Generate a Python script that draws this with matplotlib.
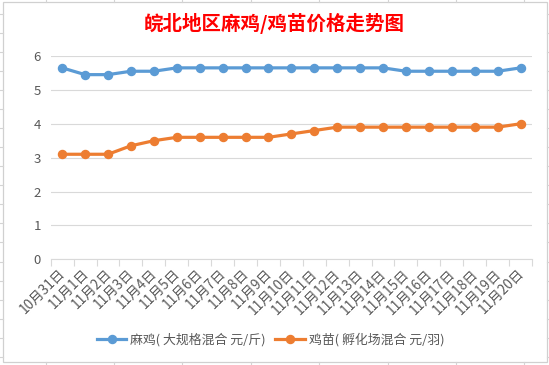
import matplotlib
matplotlib.use("Agg")
import matplotlib.pyplot as plt
from matplotlib.lines import Line2D
from matplotlib.patches import Rectangle
import numpy as np

plt.rcParams['font.family'] = ['Noto Sans CJK SC', 'DejaVu Sans']

title = "皖北地区麻鸡/鸡苗价格走势图"
dates = ["10月31日", "11月1日", "11月2日", "11月3日", "11月4日", "11月5日", "11月6日",
         "11月7日", "11月8日", "11月9日", "11月10日", "11月11日", "11月12日", "11月13日",
         "11月14日", "11月15日", "11月16日", "11月17日", "11月18日", "11月19日", "11月20日"]
maji = [5.65, 5.45, 5.45, 5.55, 5.55, 5.65, 5.65, 5.65, 5.65, 5.65, 5.65,
        5.65, 5.65, 5.65, 5.65, 5.55, 5.55, 5.55, 5.55, 5.55, 5.65]
jimiao = [3.1, 3.1, 3.1, 3.35, 3.5, 3.6, 3.6, 3.6, 3.6, 3.6, 3.7,
          3.8, 3.9, 3.9, 3.9, 3.9, 3.9, 3.9, 3.9, 3.9, 4.0]
series_names = ["麻鸡( 大规格混合 元/斤)", "鸡苗( 孵化场混合 元/羽)"]
yticks = [0, 1, 2, 3, 4, 5, 6]

W, H = 549, 365
fig = plt.figure(figsize=(W / 100, H / 100), dpi=100)
fig.patch.set_facecolor("white")

grid_c = "#D9D9D9"
text_c = "#595959"

# spreadsheet cell gridlines outside the chart
for k in range(19):
    yy = 14 + 19.04 * k
    fig.add_artist(Line2D([0, 3 / W], [1 - yy / H] * 2, color="#D4D4D4", lw=0.8, transform=fig.transFigure))
    fig.add_artist(Line2D([546.5 / W, 1], [1 - yy / H] * 2, color="#D4D4D4", lw=0.8, transform=fig.transFigure))
for k in range(8):
    xx = 45.5 + 68.4 * k
    fig.add_artist(Line2D([xx / W] * 2, [1 - 2 / H, 1], color="#D4D4D4", lw=0.8, transform=fig.transFigure))
    fig.add_artist(Line2D([xx / W] * 2, [0, 1 - 362 / H], color="#D4D4D4", lw=0.8, transform=fig.transFigure))

# chart border
fig.add_artist(Rectangle((3 / W, 1 - 362 / H), 543.5 / W, 360 / H, transform=fig.transFigure,
                         fill=False, edgecolor="#D0D0D0", lw=0.9))

left, right = 50.7 / W, 532 / W
bottom, top = 1 - 259.3 / H, 1 - 56 / H
ax = fig.add_axes([left, bottom, right - left, top - bottom])

x = np.arange(len(dates))
ax.plot(x, maji, color="#5B9BD5", lw=2.3, marker="o", ms=5.8, label=series_names[0], zorder=3)
ax.plot(x, jimiao, color="#ED7D31", lw=2.3, marker="o", ms=5.8, label=series_names[1], zorder=3)

ax.set_xlim(-0.5, len(dates) - 0.5)
ax.set_ylim(0, 6)
ax.set_yticks(yticks)
ax.set_yticklabels([str(v) for v in yticks])
ax.grid(axis="y", color=grid_c, lw=0.8)
ax.set_axisbelow(True)
for s in ["top", "right", "left"]:
    ax.spines[s].set_visible(False)
ax.spines["bottom"].set_color(grid_c)
ax.spines["bottom"].set_linewidth(0.8)

ax.tick_params(axis="y", length=0, pad=7, labelsize=9.5, labelcolor=text_c)
ax.set_xticks(x)
ax.set_xticklabels(dates, rotation=45, ha="right", va="top", rotation_mode="default")
ax.tick_params(axis="x", which="major", length=0, pad=5, labelsize=9.8, labelcolor=text_c)
ax.set_xticks(np.arange(-0.5, len(dates), 1.0), minor=True)
ax.tick_params(axis="x", which="minor", length=5, color=grid_c, width=0.8)
for lbl in ax.get_xticklabels():
    lbl.set_transform(lbl.get_transform() + matplotlib.transforms.ScaledTranslation(6 / 100, 0, fig.dpi_scale_trans))

fig.text(274 / W, 1 - 23 / H, title, ha="center", va="center", fontsize=14,
         fontweight="bold", color="#FF0000")

fig.legend(loc="center", bbox_to_anchor=(270.5 / W, 1 - 340 / H), ncol=2, frameon=False,
           fontsize=9.3, labelcolor=text_c, handlelength=2.3, handletextpad=0.3,
           columnspacing=0.7)

fig.savefig("out.png", dpi=100, facecolor="white")
